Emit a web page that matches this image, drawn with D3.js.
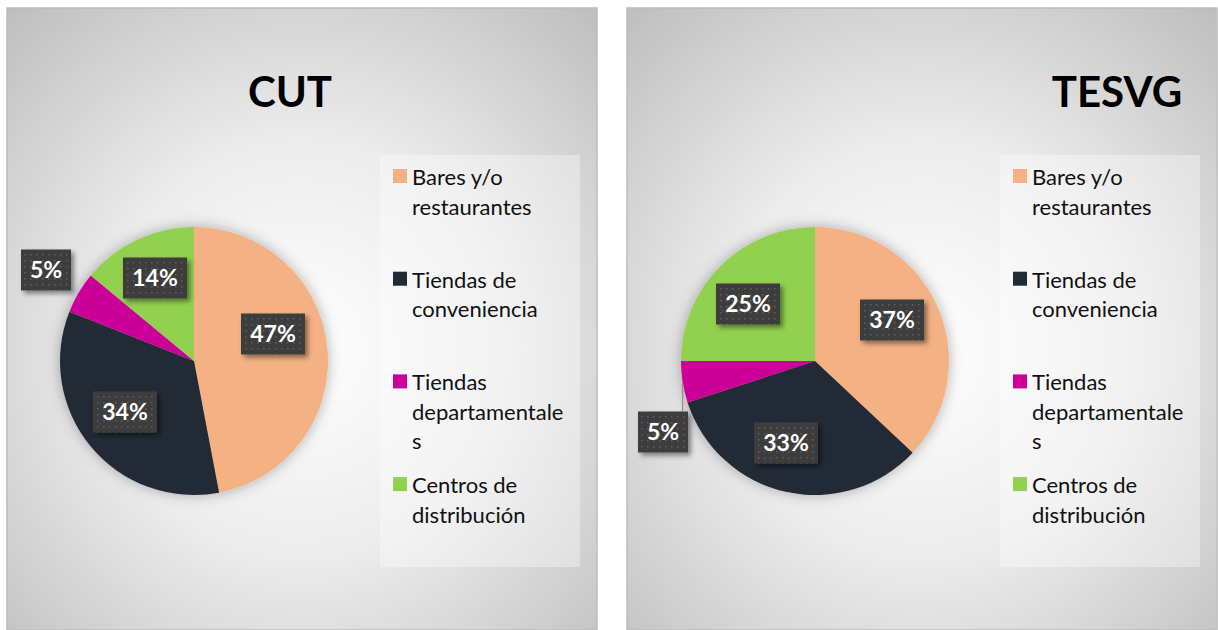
<!DOCTYPE html>
<html>
<head>
<meta charset="utf-8">
<script src="https://cdn.jsdelivr.net/npm/d3@7"></script>
<style>
  body { margin: 0; background: #fff; }
  svg { display: block; font-family: Lato, "Open Sans", sans-serif; }
</style>
</head>
<body>
<div id="chart"></div>
<script>
// data
var categories = ["Bares y/o restaurantes", "Tiendas de conveniencia", "Tiendas departamentales", "Centros de distribución"];
var legendLines = [["Bares y/o", "restaurantes"], ["Tiendas de", "conveniencia"], ["Tiendas", "departamentale", "s"], ["Centros de", "distribución"]];
var titles = ["CUT", "TESVG"];
var cutValues = [47, 34, 5, 14];
var tesvgValues = [37, 33, 5, 25];
var colors = ["#F4B183", "#222A35", "#CC0099", "#92D050"];

// label box offsets from pie centre (layout only)
var cutLabelPos = [[79, -27], [-69, 51], [-148, -91], [-39, -83]];
var tesvgLabelPos = [[77, -41], [-29, 82], [-152, 71], [-67, -57]];

var width = 1218, height = 630;

var svg = d3.select("#chart").append("svg")
    .attr("width", width)
    .attr("height", height);

var defs = svg.append("defs");

var grad = defs.append("radialGradient")
    .attr("id", "bg")
    .attr("cx", "50%").attr("cy", "55%").attr("r", "75%");
grad.append("stop").attr("offset", "0%").attr("stop-color", "#ffffff");
grad.append("stop").attr("offset", "45%").attr("stop-color", "#ececec");
grad.append("stop").attr("offset", "100%").attr("stop-color", "#bdbdbd");

var pat = defs.append("pattern")
    .attr("id", "dots")
    .attr("width", 6).attr("height", 6)
    .attr("patternUnits", "userSpaceOnUse");
pat.append("rect").attr("width", 6).attr("height", 6).attr("fill", "#3d3d3d");
pat.append("rect").attr("x", 2).attr("y", 2).attr("width", 1.5).attr("height", 1.5).attr("fill", "#5e5e5e");

var glow = defs.append("filter").attr("id", "glow")
    .attr("x", "-20%").attr("y", "-20%").attr("width", "140%").attr("height", "140%");
glow.append("feDropShadow").attr("dx", 0).attr("dy", 0)
    .attr("stdDeviation", 7).attr("flood-color", "#000").attr("flood-opacity", 0.3);

var shadow = defs.append("filter").attr("id", "shadow")
    .attr("x", "-30%").attr("y", "-30%").attr("width", "160%").attr("height", "160%");
shadow.append("feDropShadow").attr("dx", 3).attr("dy", 3)
    .attr("stdDeviation", 2.5).attr("flood-color", "#000").attr("flood-opacity", 0.45);

var panels = [
  {x: 7, title: titles[0], titleX: 290, values: cutValues, labels: cutLabelPos, cx: 194},
  {x: 627, title: titles[1], titleX: 1117, values: tesvgValues, labels: tesvgLabelPos, cx: 815}
];

var radius = 134, cy = 361;

var pie = d3.pie().sort(null).value(function(d) { return d; });
var arc = d3.arc().innerRadius(0).outerRadius(radius);

panels.forEach(function(p) {
  var g = svg.append("g");

  g.append("rect")
      .attr("x", p.x).attr("y", 8)
      .attr("width", 590).attr("height", 622)
      .attr("fill", "url(#bg)")
      .attr("stroke", "#bcbcbc")
      .attr("stroke-width", 1.5);

  g.append("text")
      .attr("x", p.titleX).attr("y", 107)
      .attr("text-anchor", "middle")
      .style("font-size", "42px")
      .style("font-weight", "bold")
      .attr("fill", "#000")
      .text(p.title);

  // legend
  var lx = p.x + 373;
  g.append("rect")
      .attr("x", lx).attr("y", 155)
      .attr("width", 200).attr("height", 412)
      .attr("fill", "#ffffff").attr("fill-opacity", 0.35);

  var items = g.selectAll("g.legend").data(categories).enter().append("g")
      .attr("class", "legend")
      .attr("transform", function(d, i) { return "translate(" + lx + "," + (185 + i * 102.7) + ")"; });

  items.append("rect")
      .attr("x", 13).attr("y", -16)
      .attr("width", 14).attr("height", 14)
      .attr("fill", function(d, i) { return colors[i]; });

  items.each(function(d, i) {
    d3.select(this).selectAll("text").data(legendLines[i]).enter().append("text")
        .attr("x", 32)
        .attr("y", function(t, j) { return j * 29.5; })
        .style("font-size", "22px")
        .attr("fill", "#111")
        .text(function(t) { return t; });
  });

  // pie
  var arcs = pie(p.values);
  var pg = g.append("g").attr("transform", "translate(" + p.cx + "," + cy + ")");

  pg.append("g").attr("filter", "url(#glow)")
    .selectAll("path").data(arcs).enter().append("path")
      .attr("d", arc)
      .attr("fill", function(d, i) { return colors[i]; });

  // leader for small outside labels
  arcs.forEach(function(d, i) {
    var pos = p.labels[i];
    var mid = (d.startAngle + d.endAngle) / 2;
    var ex = radius * Math.sin(mid), ey = -radius * Math.cos(mid);
    var boxTop = pos[1] - 20.5;
    if (ey < boxTop && Math.abs(ex - pos[0]) < 32 && p.values[i] < 10) {
      pg.append("line")
          .attr("x1", ex).attr("y1", ey)
          .attr("x2", ex).attr("y2", boxTop)
          .attr("stroke", "#8c8c8c").attr("stroke-width", 1.2);
    }
  });

  var lab = pg.selectAll("g.lab").data(arcs).enter().append("g")
      .attr("class", "lab")
      .attr("transform", function(d, i) { return "translate(" + p.labels[i][0] + "," + p.labels[i][1] + ")"; });

  lab.append("rect")
      .attr("x", function(d) { return d.data < 10 ? -25 : -32; })
      .attr("y", -20.5)
      .attr("width", function(d) { return d.data < 10 ? 50 : 64; })
      .attr("height", 41)
      .attr("fill", "url(#dots)")
      .attr("filter", "url(#shadow)");

  lab.append("text")
      .attr("text-anchor", "middle")
      .attr("y", 8)
      .style("font-size", "23px")
      .style("font-weight", "bold")
      .attr("fill", "#fff")
      .text(function(d) { return d.data + "%"; });
});
</script>
</body>
</html>
